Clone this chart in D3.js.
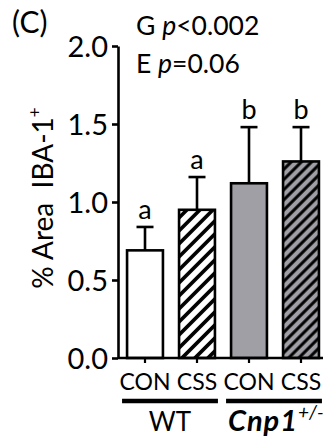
<!DOCTYPE html>
<html>
<head>
<meta charset="utf-8">
<script src="https://cdn.jsdelivr.net/npm/d3@7"></script>
<style>
  html, body { margin: 0; padding: 0; background: #fff; }
  svg { display: block; }
  text { font-family: Lato, "Open Sans", sans-serif; fill: #000; }
</style>
</head>
<body>
<svg id="chart" width="326" height="441"></svg>
<script>
// ---- data ----
const categories = ["CON", "CSS", "CON", "CSS"];
const genotypes = ["WT", "WT", "Cnp1", "Cnp1"];
const means = [0.69, 0.95, 1.12, 1.26];
const errors = [0.15, 0.21, 0.36, 0.22];
const letters = ["a", "a", "b", "b"];
const fills = ["white", "hatchWhite", "grey", "hatchGrey"];
const yTicks = [0.0, 0.5, 1.0, 1.5, 2.0];
const groups = ["WT", "Cnp1"];
const stats = [["G ", "p", "<0.002"], ["E ", "p", "=0.06"]];

// ---- setup ----
const svg = d3.select("#chart");
const idx = d3.range(categories.length);
const y = d3.scaleLinear().domain([0, 2]).range([358, 46]);
const x = d3.scaleBand().domain(idx).range([119, 327]).paddingInner(0.31).paddingOuter(0.155);
const axisX = 118;
const GREY = "#a09fa5";

const defs = svg.append("defs");
function hatch(id, bg, period, sw) {
  const p = defs.append("pattern").attr("id", id)
    .attr("patternUnits", "userSpaceOnUse")
    .attr("width", period).attr("height", period)
    .attr("patternTransform", "rotate(45)");
  p.append("rect").attr("width", period).attr("height", period).attr("fill", bg);
  p.append("line").attr("x1", period / 2).attr("x2", period / 2)
    .attr("y1", 0).attr("y2", period)
    .attr("stroke", "#000").attr("stroke-width", sw);
}
hatch("hatchWhite", "#fff", 9.2, 3.6);
hatch("hatchGrey", GREY, 7.2, 3.0);
const fillOf = f => f === "white" ? "#fff" : f === "grey" ? GREY : `url(#${f})`;

// ---- error bars ----
const eb = svg.append("g");
idx.forEach(i => {
  const cx = x(i) + x.bandwidth() / 2;
  eb.append("line").attr("x1", cx).attr("x2", cx)
    .attr("y1", y(means[i])).attr("y2", y(means[i] + errors[i]))
    .attr("stroke", "#000").attr("stroke-width", 2.6);
  eb.append("line").attr("x1", cx - 8.5).attr("x2", cx + 8.5)
    .attr("y1", y(means[i] + errors[i])).attr("y2", y(means[i] + errors[i]))
    .attr("stroke", "#000").attr("stroke-width", 2.6);
  svg.append("text").attr("x", cx).attr("y", y(means[i] + errors[i]) - 8)
    .attr("text-anchor", "middle").attr("font-size", 27).text(letters[i]);
});

// ---- bars ----
svg.append("g").selectAll("rect").data(idx).join("rect")
  .attr("x", i => x(i)).attr("width", x.bandwidth())
  .attr("y", i => y(means[i])).attr("height", i => y(0) - y(means[i]))
  .attr("fill", i => fillOf(fills[i]))
  .attr("stroke", "#000").attr("stroke-width", 2.6);

// ---- y axis ----
const yAxis = svg.append("g").attr("transform", `translate(${axisX},0)`)
  .call(d3.axisLeft(y).tickValues(yTicks).tickFormat(d3.format(".1f"))
    .tickSize(6).tickSizeOuter(0).tickPadding(4));
yAxis.selectAll("path, line").attr("stroke", "#000").attr("stroke-width", 2.6);
yAxis.selectAll("text").attr("font-size", 29).attr("font-family", "Lato").attr("dy", "0.36em");

// ---- x axis ----
const xAxis = svg.append("g").attr("transform", `translate(0,${y(0)})`)
  .call(d3.axisBottom(x).tickFormat(i => categories[i]).tickSize(5).tickSizeOuter(0).tickPadding(11));
xAxis.select(".domain").remove();
xAxis.selectAll("line").attr("stroke", "#000").attr("stroke-width", 2.2);
xAxis.selectAll("text").attr("font-size", 23).attr("font-family", "Lato");
svg.append("line").attr("x1", axisX).attr("x2", 323)
  .attr("y1", y(0)).attr("y2", y(0)).attr("stroke", "#000").attr("stroke-width", 2.6);

// ---- group lines & labels ----
groups.forEach(g => {
  const members = idx.filter(i => genotypes[i] === g);
  const x0 = x(members[0]) - 5;
  const x1 = x(members[members.length - 1]) + x.bandwidth() + 3;
  svg.append("line").attr("x1", x0).attr("x2", x1).attr("y1", 401).attr("y2", 401)
    .attr("stroke", "#000").attr("stroke-width", 4.5);
  const t = svg.append("text").attr("font-size", 26).attr("y", 431);
  if (g === "WT") {
    t.attr("x", (x0 + x1) / 2).attr("text-anchor", "middle").text(g);
  } else {
    t.attr("x", x0 + 2).attr("text-anchor", "start");
    t.append("tspan").attr("font-style", "italic").attr("font-weight", "bold")
      .attr("font-size", 29).attr("letter-spacing", 1).text(g);
    t.append("tspan").attr("font-style", "italic").attr("font-size", 19).attr("dy", -12).text("+/-");
  }
});

// ---- y label ----
const yl = svg.append("text").attr("transform", "translate(53,198) rotate(-90)")
  .attr("text-anchor", "middle").attr("font-size", 28);
yl.append("tspan").text("% Area\u00a0 IBA-1");
yl.append("tspan").attr("font-size", 17).attr("dy", -12).text("+");

// ---- panel & stats ----
svg.append("text").attr("x", 12).attr("y", 33).attr("font-size", 30).text("(C)");
stats.forEach((s, k) => {
  const t = svg.append("text").attr("x", 136).attr("y", 35 + k * 38).attr("font-size", 26.5);
  t.append("tspan").text(s[0]);
  t.append("tspan").attr("font-style", "italic").text(s[1]);
  t.append("tspan").text(s[2]);
});
</script>
</body>
</html>
